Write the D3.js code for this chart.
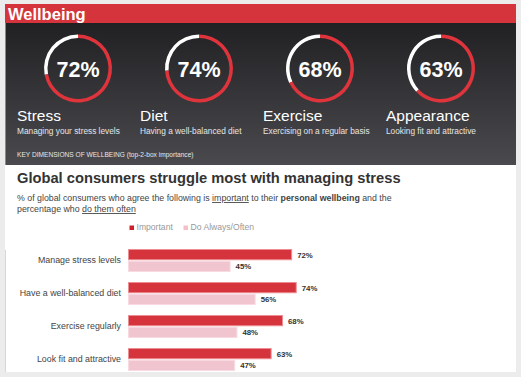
<!DOCTYPE html>
<html>
<head>
<meta charset="utf-8">
<script src="https://cdn.jsdelivr.net/npm/d3@7"></script>
<style>
  body { margin: 0; background: #ececec; }
  svg { display: block; font-family: "Liberation Sans", Arial, Helvetica, sans-serif; }
</style>
</head>
<body>
<svg id="chart"></svg>
<script>
// top gauges
const dimensions = ['Stress', 'Diet', 'Exercise', 'Appearance'];
const dimensionNotes = ['Managing your stress levels', 'Having a well-balanced diet',
    'Exercising on a regular basis', 'Looking fit and attractive'];
const dimensionValues = [72, 74, 68, 63];

// bar chart
const categories = ['Manage stress levels', 'Have a well-balanced diet', 'Exercise regularly', 'Look fit and attractive'];
const seriesNames = ['Important', 'Do Always/Often'];
const importantValues = [72, 74, 68, 63];
const doOftenValues = [45, 56, 48, 47];

const config = {
    width: 521,
    height: 377,
    red: '#d5343c',
    pink: '#f1c5d0'
};

const svg = d3.select('#chart')
    .attr('width', config.width)
    .attr('height', config.height);

// card
svg.append('rect')
    .attr('x', 5).attr('y', 4)
    .attr('width', 511).attr('height', 368)
    .attr('fill', '#fff');

// header
svg.append('rect')
    .attr('x', 5).attr('y', 4)
    .attr('width', 511).attr('height', 19)
    .attr('fill', config.red);
svg.append('text')
    .attr('x', 8).attr('y', 19.5)
    .attr('fill', '#fff')
    .attr('font-size', 16.5)
    .attr('font-weight', 'bold')
    .text('Wellbeing');

// dark panel
const grad = svg.append('defs').append('linearGradient')
    .attr('id', 'panelGrad')
    .attr('x1', 0).attr('y1', 0).attr('x2', 0).attr('y2', 1);
grad.append('stop').attr('offset', '0%').attr('stop-color', '#212124');
grad.append('stop').attr('offset', '100%').attr('stop-color', '#4a4a4e');

svg.append('rect')
    .attr('x', 5).attr('y', 23)
    .attr('width', 511).attr('height', 142)
    .attr('fill', 'url(#panelGrad)');
svg.append('line')
    .attr('x1', 5.5).attr('x2', 5.5).attr('y1', 23).attr('y2', 165)
    .attr('stroke', '#8a8a8a');

const centerX = d3.scalePoint().domain(dimensions).range([78, 441]);
const labelX = d3.scalePoint().domain(dimensions).range([17, 386]);
const tau = 2 * Math.PI;
const ringArc = d3.arc().innerRadius(30.5).outerRadius(34);

const gauges = svg.selectAll('.gauge')
    .data(dimensions)
    .join('g')
    .attr('class', 'gauge')
    .attr('transform', d => `translate(${centerX(d)},68.5)`);

gauges.append('path')
    .attr('fill', '#fff')
    .attr('d', (d, i) => ringArc({ startAngle: dimensionValues[i] / 100 * tau, endAngle: tau }));
gauges.append('path')
    .attr('fill', '#e0343c')
    .attr('d', (d, i) => ringArc({ startAngle: 0, endAngle: dimensionValues[i] / 100 * tau }));
gauges.append('text')
    .attr('text-anchor', 'middle')
    .attr('y', 8)
    .attr('fill', '#fff')
    .attr('font-size', 21.5)
    .attr('font-weight', 'bold')
    .text((d, i) => dimensionValues[i] + '%');

svg.selectAll('.dim-title')
    .data(dimensions)
    .join('text')
    .attr('class', 'dim-title')
    .attr('x', d => labelX(d))
    .attr('y', 121)
    .attr('fill', '#fff')
    .attr('font-size', 15.5)
    .text(d => d);

svg.selectAll('.dim-note')
    .data(dimensions)
    .join('text')
    .attr('class', 'dim-note')
    .attr('x', d => labelX(d))
    .attr('y', 134)
    .attr('fill', '#e6e6e6')
    .attr('font-size', 8.3)
    .text((d, i) => dimensionNotes[i]);

svg.append('text')
    .attr('x', 17).attr('y', 157)
    .attr('fill', '#e6e6e6')
    .attr('font-size', 6.6)
    .text('KEY DIMENSIONS OF WELLBEING (top-2-box importance)');

// title & subtitle
svg.append('text')
    .attr('x', 17).attr('y', 182.5)
    .attr('fill', '#333')
    .attr('font-size', 14.7)
    .attr('font-weight', 'bold')
    .text('Global consumers struggle most with managing stress');

const sub1 = svg.append('text')
    .attr('x', 17).attr('y', 201)
    .attr('fill', '#444')
    .attr('font-size', 8.8);
sub1.append('tspan').text('% of global consumers who agree the following is ');
sub1.append('tspan').attr('text-decoration', 'underline').text('important');
sub1.append('tspan').text(' to their ');
sub1.append('tspan').attr('font-weight', 'bold').text('personal wellbeing');
sub1.append('tspan').text(' and the');

const sub2 = svg.append('text')
    .attr('x', 17).attr('y', 212)
    .attr('fill', '#444')
    .attr('font-size', 8.8);
sub2.append('tspan').text('percentage who ');
sub2.append('tspan').attr('text-decoration', 'underline').text('do them often');

// legend
const legendX = d3.scaleOrdinal().domain(seriesNames).range([129.5, 183.5]);
const colorScale = d3.scaleOrdinal().domain(seriesNames).range([config.red, config.pink]);

const legend = svg.selectAll('.legend')
    .data(seriesNames)
    .join('g')
    .attr('class', 'legend')
    .attr('transform', d => `translate(${legendX(d)},225)`);
legend.append('rect')
    .attr('width', 4.5).attr('height', 4.5)
    .attr('y', 0.5)
    .attr('fill', d => d === 'Important' ? '#d01f28' : '#f3bfcb');
legend.append('text')
    .attr('x', 7).attr('y', 5)
    .attr('fill', '#999')
    .attr('font-size', 8.6)
    .text(d => d);

// left pink rule
svg.append('line')
    .attr('x1', 5.5).attr('x2', 5.5).attr('y1', 250).attr('y2', 372)
    .attr('stroke', '#f6c9cf');

// bars
const xScale = d3.scaleLinear().domain([0, 100]).range([128, 356]);
const yScale = d3.scaleBand().domain(categories).range([249, 371]).paddingInner(10 / 33);
const ySub = d3.scaleBand().domain(seriesNames).range([0, yScale.bandwidth()]).paddingInner(0.04);

const rows = categories.map((c, i) => ({
    category: c,
    values: [
        { key: seriesNames[0], value: importantValues[i] },
        { key: seriesNames[1], value: doOftenValues[i] }
    ]
}));

const groups = svg.selectAll('.row')
    .data(rows)
    .join('g')
    .attr('class', 'row')
    .attr('transform', d => `translate(0,${yScale(d.category)})`);

groups.selectAll('.bar')
    .data(d => d.values)
    .join('rect')
    .attr('class', 'bar')
    .attr('x', xScale(0) + 0.5)
    .attr('y', d => ySub(d.key) + 0.5)
    .attr('width', d => xScale(d.value) - xScale(0) - 1)
    .attr('height', ySub.bandwidth() - 1)
    .attr('fill', d => colorScale(d.key))
    .attr('stroke', d => d.key === 'Important' ? '#ec8d93' : '#f8dbe2')
    .attr('stroke-width', 1);

groups.selectAll('.value')
    .data(d => d.values)
    .join('text')
    .attr('class', 'value')
    .attr('x', d => xScale(d.value) + 5)
    .attr('y', d => ySub(d.key) + ySub.bandwidth() / 2 + 3)
    .attr('fill', '#333')
    .attr('font-size', 7.8)
    .attr('font-weight', 'bold')
    .text(d => d.value + '%');

// category axis
const yAxis = d3.axisLeft(yScale).tickSize(0).tickPadding(7);
svg.append('g')
    .attr('transform', `translate(${xScale(0)},0)`)
    .call(yAxis)
    .call(g => g.select('.domain').remove())
    .call(g => g.selectAll('text')
        .attr('fill', '#444')
        .attr('font-size', 8.85)
        .attr('font-family', '"Liberation Sans", Arial, sans-serif'));
</script>
</body>
</html>
